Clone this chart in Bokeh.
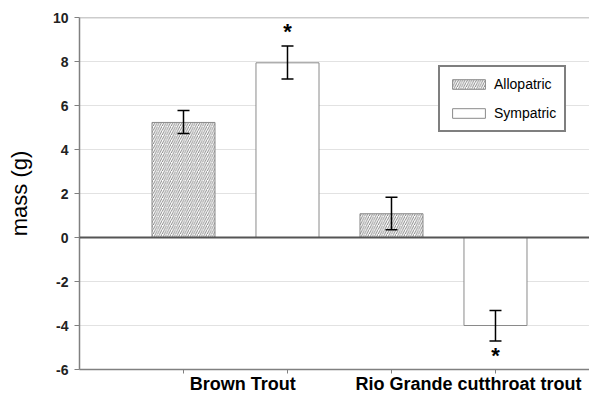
from bokeh.plotting import figure
from bokeh.models import (ColumnDataSource, Range1d, FixedTicker, Whisker, TeeHead,
                          Span, Legend, LegendItem)
from bokeh.core.properties import value
from bokeh.embed import file_html
from bokeh.resources import INLINE

# ---- data ----
species = ["Brown Trout", "Rio Grande cutthroat trout"]
allopatric = [5.23, 1.08]
allopatric_lower = [4.73, 0.35]
allopatric_upper = [5.77, 1.83]
sympatric = [7.94, -4.00]
sympatric_lower = [7.21, -4.71]
sympatric_upper = [8.70, -3.32]
sympatric_significant = [True, True]
y_ticks = [-6, -4, -2, 0, 2, 4, 6, 8, 10]
y_tick_labels = ["-6", "-4", "-2", "0", "2", "4", "6", "8", "10"]

FONT = "Liberation Sans"

n = len(species)
x_allo = [2 * i + 1 for i in range(n)]
x_sym = [2 * i + 2 for i in range(n)]

src_allo = ColumnDataSource(dict(x=x_allo, top=allopatric, lo=allopatric_lower, hi=allopatric_upper))
src_sym = ColumnDataSource(dict(x=x_sym, top=sympatric, lo=sympatric_lower, hi=sympatric_upper))

p = figure(width=589, height=397, output_backend="svg", toolbar_location=None,
           x_range=Range1d(0, 4.904), y_range=Range1d(-6, 10),
           min_border_left=79, min_border_right=0, min_border_top=17, min_border_bottom=28)

p.background_fill_color = "white"
p.border_fill_color = "white"
p.outline_line_color = None

# grid
p.xgrid.grid_line_color = None
p.ygrid.ticker = FixedTicker(ticks=y_ticks)
p.ygrid.grid_line_color = "#e2e2e2"
p.ygrid.grid_line_width = 1

# top frame line
p.add_layout(Span(location=10, dimension="width", line_color="#9a9a9a", line_width=1.5))

# bars
bw = 0.606
r_allo = p.vbar(x="x", top="top", bottom=0, width=bw, source=src_allo,
                fill_color="white", line_color="#8a8a8a", line_width=1,
                hatch_pattern="/", hatch_color="#7a7a7a", hatch_scale=4.5, hatch_weight=0.9)
r_sym = p.vbar(x="x", top="top", bottom=0, width=bw, source=src_sym,
               fill_color="white", line_color="#8a8a8a", line_width=1)

# zero line
p.add_layout(Span(location=0, dimension="width", line_color="#555555", line_width=2))

# error bars
for s in (src_allo, src_sym):
    p.add_layout(Whisker(source=s, base="x", lower="lo", upper="hi", level="overlay",
                         line_color="black", line_width=1.5,
                         upper_head=TeeHead(size=12, line_color="black", line_width=1.5),
                         lower_head=TeeHead(size=12, line_color="black", line_width=1.5)))

# significance asterisks
star_x, star_y = [], []
for i in range(n):
    if sympatric_significant[i]:
        star_x.append(x_sym[i])
        if sympatric[i] >= 0:
            star_y.append(sympatric_upper[i] + 0.66)
        else:
            star_y.append(sympatric_lower[i] - 0.66)
p.text(x=star_x, y=star_y, text=["*"] * len(star_x), text_font=value(FONT),
       text_font_size="22px", text_font_style="bold", text_align="center",
       text_baseline="middle", text_color="black")

# axes
p.yaxis.ticker = FixedTicker(ticks=y_ticks)
p.yaxis.major_label_overrides = {t: l for t, l in zip(y_ticks, y_tick_labels)}
p.yaxis.axis_label = "mass (g)"
p.yaxis.axis_label_text_font = FONT
p.yaxis.axis_label_text_font_size = "22px"
p.yaxis.axis_label_text_font_style = "normal"
p.yaxis.axis_label_text_color = "black"
p.yaxis.axis_label_standoff = 18
p.yaxis.major_label_text_font = FONT
p.yaxis.major_label_text_font_size = "14px"
p.yaxis.major_label_text_font_style = "bold"
p.yaxis.major_label_text_color = "#222222"
p.yaxis.major_label_standoff = 6
p.yaxis.major_tick_out = 5
p.yaxis.major_tick_in = 0
p.yaxis.minor_tick_line_color = None
p.yaxis.axis_line_color = "#808080"
p.yaxis.axis_line_width = 1.5
p.yaxis.major_tick_line_color = "#808080"

label_pos = [1.57, 3.74]
p.xaxis.ticker = FixedTicker(ticks=label_pos, minor_ticks=x_allo + x_sym)
p.xaxis.major_label_overrides = {label_pos[i]: species[i] for i in range(n)}
p.xaxis.major_label_text_font = FONT
p.xaxis.major_label_text_font_size = "18px"
p.xaxis.major_label_text_font_style = "bold"
p.xaxis.major_label_text_color = "black"
p.xaxis.major_label_standoff = 0
p.xaxis.major_tick_line_color = None
p.xaxis.major_tick_out = 0
p.xaxis.major_tick_in = 0
p.xaxis.minor_tick_line_color = "#808080"
p.xaxis.minor_tick_out = 4
p.xaxis.minor_tick_in = 0
p.xaxis.axis_line_color = "#808080"
p.xaxis.axis_line_width = 1.5

# legend
legend = Legend(items=[LegendItem(label="Allopatric", renderers=[r_allo]),
                       LegendItem(label="Sympatric", renderers=[r_sym])],
                location=(359, 237))
legend.border_line_color = "black"
legend.border_line_width = 2
legend.background_fill_color = "white"
legend.background_fill_alpha = 1
legend.label_text_font = FONT
legend.label_text_font_size = "14px"
legend.label_text_color = "black"
legend.glyph_width = 41
legend.glyph_height = 12
legend.label_height = 18
legend.label_standoff = 5
legend.spacing = 11
legend.padding = 8
legend.margin = 0
p.add_layout(legend, "center")

open("out.html", "w").write(file_html(p, INLINE))
